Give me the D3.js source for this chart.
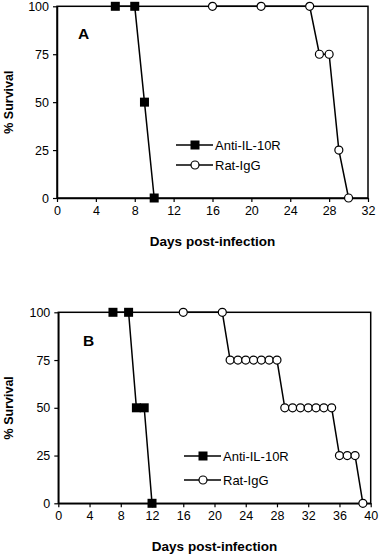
<!DOCTYPE html>
<html><head><meta charset="utf-8">
<script src="https://cdn.jsdelivr.net/npm/d3@7"></script>
<style>body{margin:0;background:#fff}svg{display:block}text{font-family:"Liberation Sans",Arial,sans-serif;fill:#000}</style>
</head><body>
<svg id="c" width="379" height="557"></svg>
<script>
// Panel A data
const aAntiDays = [6, 8, 9, 10];
const aAntiSurv = [100, 100, 50, 0];
const aRatDays = [16, 21, 26, 27, 28, 29, 30];
const aRatSurv = [100, 100, 100, 75, 75, 25, 0];
const aXTicks = [0, 4, 8, 12, 16, 20, 24, 28, 32];
// Panel B data
const bAntiDays = [7, 9, 10, 11, 12];
const bAntiSurv = [100, 100, 50, 50, 0];
const bRatDays = [16, 21, 22, 23, 24, 25, 26, 27, 28, 29, 30, 31, 32, 33, 34, 35, 36, 37, 38, 39];
const bRatSurv = [100, 100, 75, 75, 75, 75, 75, 75, 75, 50, 50, 50, 50, 50, 50, 50, 25, 25, 25, 0];
const bXTicks = [0, 4, 8, 12, 16, 20, 24, 28, 32, 36, 40];
const yTicks = [0, 25, 50, 75, 100];
const seriesNames = ["Anti-IL-10R", "Rat-IgG"];

const svg = d3.select("#c");

function panel(o) {
  const g = svg.append("g");
  const x = d3.scaleLinear().domain([0, o.xmax]).range([o.left, o.right]);
  const y = d3.scaleLinear().domain([0, 100]).range([o.bottom, o.top]);
  g.append("rect").attr("x", o.left).attr("y", o.top)
    .attr("width", o.right - o.left).attr("height", o.bottom - o.top)
    .attr("fill", "none").attr("stroke", "#000").attr("stroke-width", 1.5);
  const xa = g.append("g").attr("transform", `translate(0,${o.bottom})`)
    .call(d3.axisBottom(x).tickValues(o.xticks).tickSize(4).tickPadding(4).tickSizeOuter(0));
  const ya = g.append("g").attr("transform", `translate(${o.left},0)`)
    .call(d3.axisLeft(y).tickValues(yTicks).tickSize(4).tickPadding(4).tickSizeOuter(0));
  [xa, ya].forEach(a => {
    a.select(".domain").attr("stroke-width", 1.5);
    a.selectAll(".tick line").attr("stroke-width", 1.2);
    a.selectAll("text").style("font-size", "12.5px").style("font-family", '"Liberation Sans",Arial,sans-serif');
  });
  g.append("text").attr("x", (o.left + o.right) / 2).attr("y", o.titleY)
    .attr("text-anchor", "middle").style("font-weight", "bold").style("font-size", "13.5px")
    .text("Days post-infection");
  g.append("text").attr("transform", `translate(13,${(o.top + o.bottom) / 2}) rotate(-90)`)
    .attr("text-anchor", "middle").style("font-weight", "bold").style("font-size", "12.5px")
    .text("% Survival");
  g.append("text").attr("x", o.labX).attr("y", o.labY).style("font-weight", "bold")
    .style("font-size", "15.5px").text(o.label);

  const line = d3.line().x(d => x(d[0])).y(d => y(d[1]));
  const anti = o.antiDays.map((d, i) => [d, o.antiSurv[i]]);
  const rat = o.ratDays.map((d, i) => [d, o.ratSurv[i]]);
  [anti, rat].forEach(s => g.append("path").attr("d", line(s)).attr("fill", "none")
    .attr("stroke", "#000").attr("stroke-width", 1.5));
  g.selectAll(".sq").data(anti).enter().append("rect")
    .attr("x", d => x(d[0]) - 4.5).attr("y", d => y(d[1]) - 4.5)
    .attr("width", 9).attr("height", 9).attr("fill", "#000");
  g.selectAll(".ci").data(rat).enter().append("circle")
    .attr("cx", d => x(d[0])).attr("cy", d => y(d[1])).attr("r", 4)
    .attr("fill", "#fff").attr("stroke", "#000").attr("stroke-width", 1.2);
  seriesNames.forEach((n, i) => {
    const ly = o.legY + i * o.legGap;
    g.append("line").attr("x1", o.legX).attr("x2", o.legX + 37).attr("y1", ly).attr("y2", ly)
      .attr("stroke", "#000").attr("stroke-width", 1.5);
    if (i === 0) g.append("rect").attr("x", o.legX + 19 - 4.5).attr("y", ly - 4.5)
      .attr("width", 9).attr("height", 9).attr("fill", "#000");
    else g.append("circle").attr("cx", o.legX + 19).attr("cy", ly).attr("r", 4)
      .attr("fill", "#fff").attr("stroke", "#000").attr("stroke-width", 1.2);
    g.append("text").attr("x", o.legX + 39).attr("y", ly + 4.6)
      .style("font-size", "13px").text(n);
  });
}

panel({left: 57, right: 368, top: 6.3, bottom: 198, xmax: 32, xticks: aXTicks,
  titleY: 246, label: "A", labX: 78, labY: 39,
  antiDays: aAntiDays, antiSurv: aAntiSurv, ratDays: aRatDays, ratSurv: aRatSurv,
  legX: 176, legY: 145, legGap: 20});
panel({left: 58.3, right: 370.7, top: 312.3, bottom: 503.3, xmax: 40, xticks: bXTicks,
  titleY: 551, label: "B", labX: 83, labY: 345.5,
  antiDays: bAntiDays, antiSurv: bAntiSurv, ratDays: bRatDays, ratSurv: bRatSurv,
  legX: 184, legY: 456, legGap: 24});
</script>
</body></html>
